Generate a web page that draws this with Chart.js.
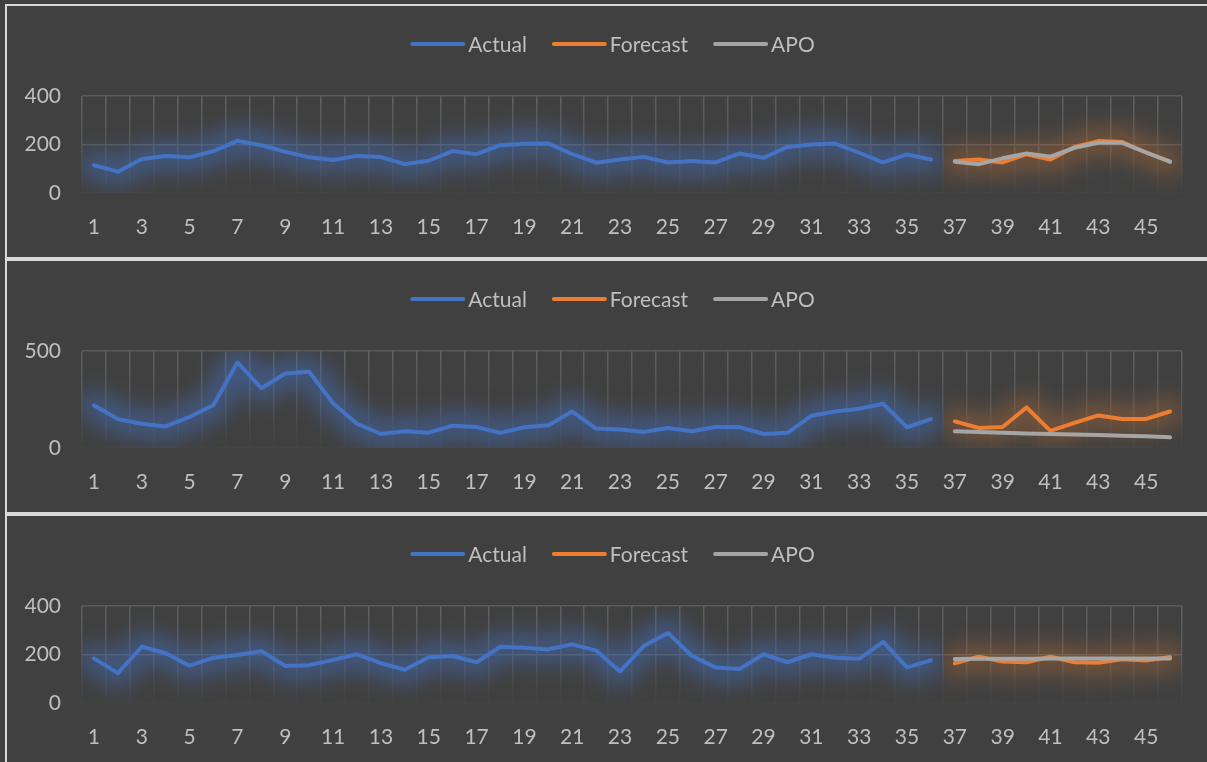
<!DOCTYPE html>
<html>
<head>
<meta charset="utf-8">
<title>Actual vs Forecast vs APO</title>
<script src="https://cdn.jsdelivr.net/npm/chart.js@4.4.1/dist/chart.umd.min.js"></script>
<style>
    html, body { margin: 0; padding: 0; }
    body {
        width: 1207px;
        height: 762px;
        background: #404040;
        overflow: hidden;
        position: relative;
    }
    .panel {
        position: absolute;
        left: 5px;
        width: 1211px;
        height: 251px;
        border: 2px solid #d9d9d9;
        background: #404040;
    }
    .panel canvas { display: block; }
</style>
</head>
<body>
<div class="panel" style="top:4px"><canvas id="chart1" width="1211" height="251"></canvas></div>
<div class="panel" style="top:259px"><canvas id="chart2" width="1211" height="251"></canvas></div>
<div class="panel" style="top:514px"><canvas id="chart3" width="1211" height="251"></canvas></div>

<script>
// --- Data ---
const periods = [1, 2, 3, 4, 5, 6, 7, 8, 9, 10, 11, 12, 13, 14, 15, 16, 17, 18, 19, 20, 21, 22, 23,
    24, 25, 26, 27, 28, 29, 30, 31, 32, 33, 34, 35, 36, 37, 38, 39, 40, 41, 42, 43, 44, 45, 46];

// history: periods 1-36, outlook: periods 37-46
const actual1 = [115, 88, 140, 153, 147, 173, 215, 197, 170, 147, 136, 153, 148, 119, 133, 173, 160, 197,
    203, 204, 160, 125, 138, 149, 126, 132, 126, 163, 145, 190, 200, 204, 166, 126, 159, 138];
const forecast1 = [132, 138, 126, 160, 138, 190, 214, 210, 167, 129];
const apo1 = [129, 119, 143, 163, 150, 186, 207, 207, 167, 129];

const actual2 = [219, 149, 125, 111, 160, 222, 441, 308, 384, 393, 231, 125, 72, 86, 79, 115, 108, 78,
    107, 117, 188, 100, 95, 83, 103, 86, 108, 108, 72, 78, 166, 188, 202, 228, 107, 149];
const forecast2 = [137, 103, 108, 209, 88, 129, 168, 150, 150, 188];
const apo2 = [86, 82, 79, 75, 72, 69, 67, 63, 60, 55];

const actual3 = [184, 123, 232, 205, 154, 187, 198, 214, 153, 156, 178, 201, 164, 137, 189, 194, 168, 232,
    228, 221, 242, 216, 130, 236, 289, 195, 146, 140, 201, 168, 201, 187, 182, 252, 147, 176];
const forecast3 = [164, 191, 171, 168, 191, 168, 166, 180, 175, 190];
const apo3 = [181, 182, 182, 182, 183, 183, 183, 183, 184, 184];

// y axis ranges per panel
const yMax = [400, 500, 400];
const yStep = [200, 500, 200];

// --- Styles ---
const TEXT_COLOR = '#bfbfbf';
const GRID_COLOR = '#595959';
const FONT = { family: 'Lato, "Open Sans", sans-serif', size: 21 };

// order: lower is painted later, so APO sits on top of Forecast
const SERIES = [
    { label: 'Actual', color: '#4472c4', glow: 'rgba(68,114,196,0.5)', order: 2 },
    { label: 'Forecast', color: '#ed7d31', glow: 'rgba(220,120,50,0.33)', order: 1 },
    { label: 'APO', color: '#a5a5a5', glow: null, order: 0 }
];

// --- Plugins ---

// soft halo under a series, kept inside the plot and its own span of periods
const glowPlugin = {
    id: 'glow',
    beforeDatasetDraw(chart, args) {
        const ds = chart.data.datasets[args.index];
        if (!ds.glow) return;
        const pts = args.meta.data.filter(p => !p.skip);
        if (!pts.length) return;
        const area = chart.chartArea;
        const xs = chart.scales.x;
        const half = (xs.getPixelForValue(1) - xs.getPixelForValue(0)) / 2;
        const x0 = Math.max(area.left, pts[0].x - half);
        const x1 = Math.min(area.right, pts[pts.length - 1].x + half);
        const ctx = chart.ctx;
        ctx.save();
        ctx.beginPath();
        ctx.rect(x0, area.top, x1 - x0, area.bottom - area.top);
        ctx.clip();
        ctx.filter = 'blur(11px)';
        ctx.strokeStyle = ds.glow;
        ctx.lineWidth = 28;
        ctx.lineJoin = 'round';
        ctx.lineCap = 'round';
        ctx.beginPath();
        pts.forEach((p, i) => i ? ctx.lineTo(p.x, p.y) : ctx.moveTo(p.x, p.y));
        ctx.stroke();
        ctx.restore();
    }
};

// legend row centred above the plot: long line sample, label right next to it
const lineLegend = {
    id: 'lineLegend',
    afterDraw(chart) {
        const ctx = chart.ctx;
        const sample = 55, gap = 3, spacing = 25, y = 38;
        ctx.save();
        ctx.font = `${FONT.size}px ${FONT.family}`;
        const items = chart.data.datasets.map(ds => ({
            text: ds.label, color: ds.borderColor, w: ctx.measureText(ds.label).width
        }));
        const total = items.reduce((s, it) => s + sample + gap + it.w, 0) + spacing * (items.length - 1);
        let x = (chart.width - total) / 2;
        ctx.textBaseline = 'middle';
        ctx.textAlign = 'left';
        items.forEach(it => {
            ctx.strokeStyle = it.color;
            ctx.lineWidth = 4;
            ctx.lineCap = 'round';
            ctx.beginPath();
            ctx.moveTo(x + 2, y);
            ctx.lineTo(x + sample - 2, y);
            ctx.stroke();
            x += sample + gap;
            ctx.fillStyle = TEXT_COLOR;
            ctx.fillText(it.text, x, y + 1);
            x += it.w + spacing;
        });
        ctx.restore();
    }
};

// --- Functions ---

function padSeries(history, outlook) {
    const blanks = periods.length - history.length - outlook.length;
    return history.concat(new Array(blanks).fill(null), outlook);
}

function verticalGridColor(context) {
    const chart = context.chart;
    const area = chart.chartArea;
    if (!area) return GRID_COLOR;
    const g = chart.ctx.createLinearGradient(0, area.top, 0, area.bottom);
    g.addColorStop(0, 'rgba(96,96,96,1)');
    g.addColorStop(0.55, 'rgba(90,90,90,0.75)');
    g.addColorStop(1, 'rgba(80,80,80,0.15)');
    return g;
}

function buildChart(canvasId, actual, forecast, apo, max, step) {
    const series = [
        padSeries(actual, []),
        padSeries([], forecast),
        padSeries([], apo)
    ];
    const datasets = SERIES.map((s, i) => ({
        label: s.label,
        data: series[i],
        order: s.order,
        borderColor: s.color,
        backgroundColor: s.color,
        glow: s.glow,
        borderWidth: 4,
        borderCapStyle: 'round',
        borderJoinStyle: 'round',
        pointRadius: 0,
        pointHoverRadius: 0,
        tension: 0,
        spanGaps: false
    }));

    return new Chart(document.getElementById(canvasId), {
        type: 'line',
        data: { labels: periods, datasets: datasets },
        options: {
            responsive: false,
            animation: false,
            events: [],
            layout: { padding: { top: 90, right: 36, bottom: 0, left: 0 } },
            plugins: {
                legend: { display: false },
                tooltip: { enabled: false }
            },
            scales: {
                x: {
                    offset: true,
                    afterFit: s => { s.height = 64; },
                    border: { display: false },
                    grid: { offset: true, drawTicks: false, color: verticalGridColor, lineWidth: 1.5 },
                    ticks: {
                        autoSkip: false,
                        maxRotation: 0,
                        padding: 22,
                        color: TEXT_COLOR,
                        font: FONT,
                        callback: (v, i) => (i % 2 === 0 ? periods[i] : '')
                    }
                },
                y: {
                    min: 0,
                    max: max,
                    afterFit: s => { s.width = 75; },
                    border: { display: false },
                    grid: {
                        drawTicks: false,
                        lineWidth: 1.5,
                        color: c => (c.tick && c.tick.value === 0 ? 'rgba(80,80,80,0.2)' : GRID_COLOR)
                    },
                    ticks: { stepSize: step, padding: 21, color: TEXT_COLOR, font: FONT }
                }
            }
        },
        plugins: [glowPlugin, lineLegend]
    });
}

// --- Initial Setup ---
buildChart('chart1', actual1, forecast1, apo1, yMax[0], yStep[0]);
buildChart('chart2', actual2, forecast2, apo2, yMax[1], yStep[1]);
buildChart('chart3', actual3, forecast3, apo3, yMax[2], yStep[2]);
</script>
</body>
</html>
